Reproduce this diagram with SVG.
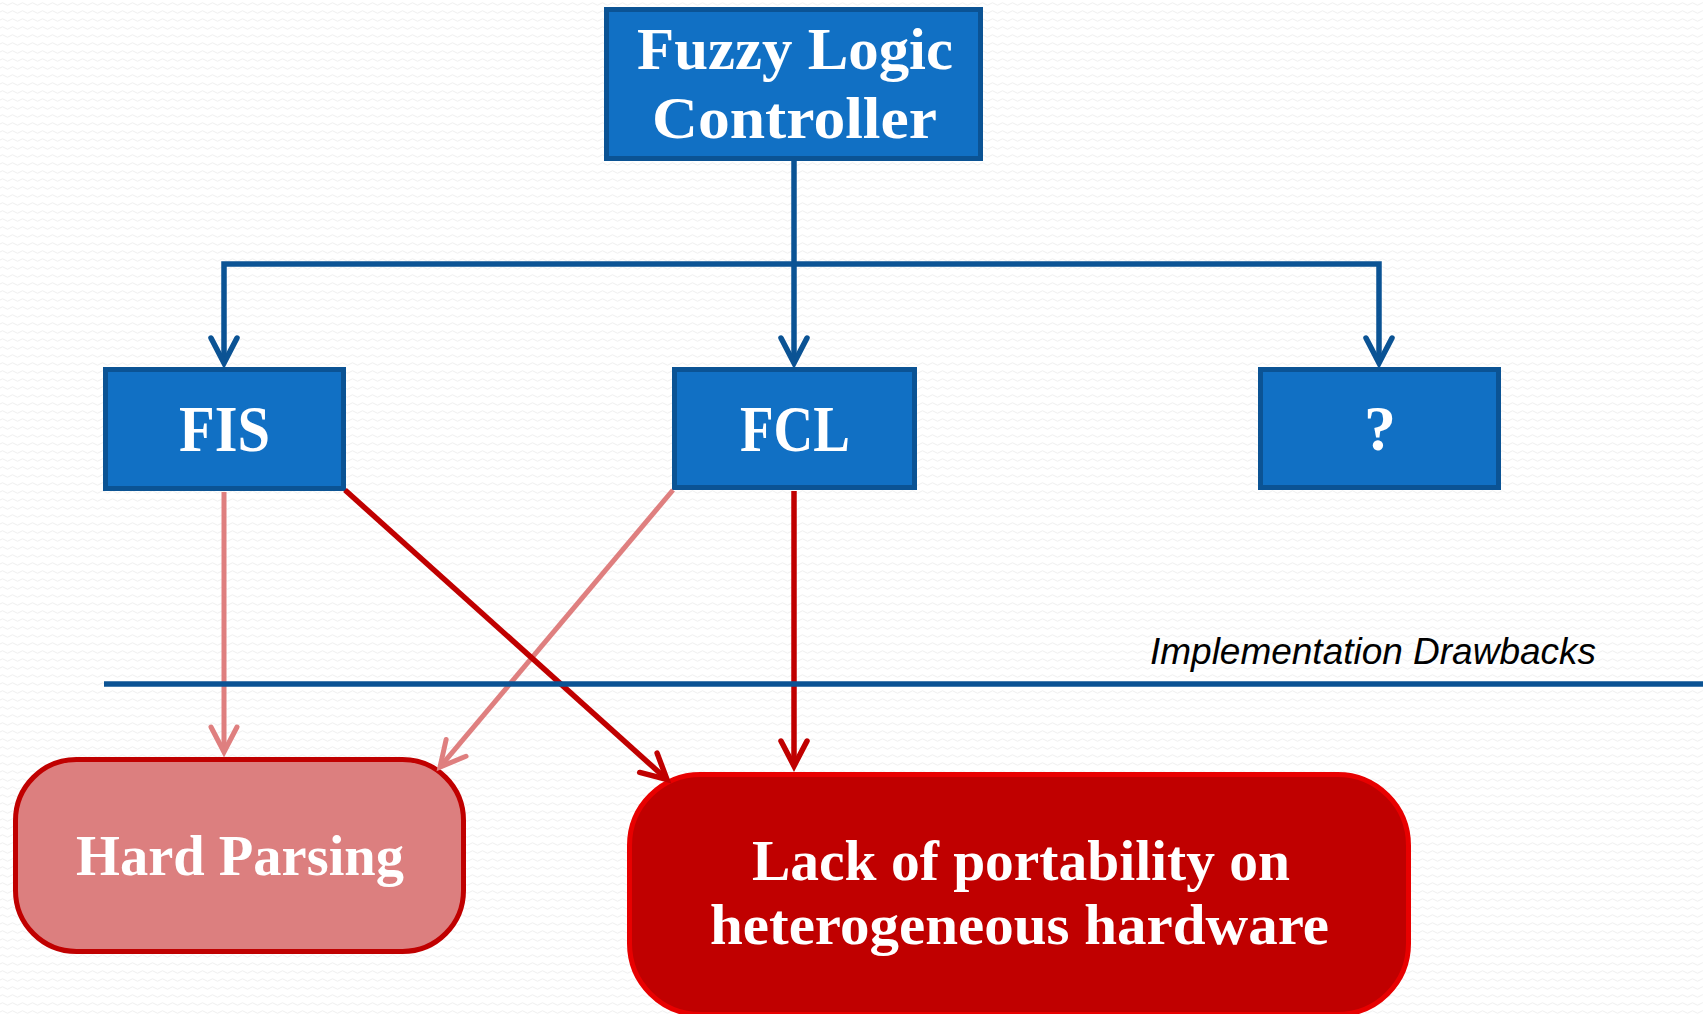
<svg xmlns="http://www.w3.org/2000/svg" width="1703" height="1014" viewBox="0 0 1703 1014">
<defs>
<pattern id="bgp" width="10" height="8" patternUnits="userSpaceOnUse">
<rect width="10" height="8" fill="#ffffff"/>
<path d="M0 4 Q2.5 1.5 5 4 T10 4" fill="none" stroke="#efefef" stroke-width="1"/>
</pattern>
<marker id="mb" markerUnits="userSpaceOnUse" viewBox="-30 -20 40 40" markerWidth="40" markerHeight="40" refX="0" refY="0" orient="auto" overflow="visible">
<path d="M-25,-13 L0,0 L-25,13" fill="none" stroke="#0b5394" stroke-width="5.5" stroke-linecap="round" stroke-linejoin="miter"/>
</marker>
<marker id="mr" markerUnits="userSpaceOnUse" viewBox="-30 -20 40 40" markerWidth="40" markerHeight="40" refX="0" refY="0" orient="auto" overflow="visible">
<path d="M-25,-13 L0,0 L-25,13" fill="none" stroke="#c00000" stroke-width="5.5" stroke-linecap="round" stroke-linejoin="miter"/>
</marker>
<marker id="ml" markerUnits="userSpaceOnUse" viewBox="-30 -20 40 40" markerWidth="40" markerHeight="40" refX="0" refY="0" orient="auto" overflow="visible">
<path d="M-25,-13 L0,0 L-25,13" fill="none" stroke="#df7f7f" stroke-width="5" stroke-linecap="round" stroke-linejoin="miter"/>
</marker>
</defs>
<style>
.bbox{fill:#1170c4;stroke:#0b5394;stroke-width:5}
.lbl{fill:#ffffff;font-family:"Liberation Serif","DejaVu Serif",serif;font-weight:bold;text-anchor:middle}
.blue{fill:none;stroke:#0b5394;stroke-width:5.5;stroke-linejoin:miter}
.dred{fill:none;stroke:#c00000;stroke-width:5.5}
.lred{fill:none;stroke:#df7f7f;stroke-width:5}
.note{fill:#000000;font-family:"Liberation Sans",Arial,sans-serif;font-style:italic;font-size:36px}
</style>
<rect width="1703" height="1014" fill="url(#bgp)"/>

<g id="flc">
<rect class="bbox" x="606.5" y="9.5" width="374" height="149"/>
<text class="lbl" x="795" y="69" font-size="59" textLength="316" lengthAdjust="spacingAndGlyphs">Fuzzy Logic</text>
<text class="lbl" x="794.5" y="138" font-size="59" textLength="285" lengthAdjust="spacingAndGlyphs">Controller</text>
</g>

<g id="fis">
<rect class="bbox" x="105.5" y="369.5" width="238" height="119"/>
<text class="lbl" x="224.5" y="451" font-size="66" textLength="91" lengthAdjust="spacingAndGlyphs">FIS</text>
</g>

<g id="fcl">
<rect class="bbox" x="674.5" y="369.5" width="240" height="118"/>
<text class="lbl" x="795" y="451" font-size="66" textLength="110" lengthAdjust="spacingAndGlyphs">FCL</text>
</g>

<g id="unknown">
<rect class="bbox" x="1260.5" y="369.5" width="238" height="118"/>
<text class="lbl" x="1380" y="450" font-size="64">?</text>
</g>

<g id="hard-parsing">
<rect x="15.5" y="759.5" width="448" height="192" rx="61" ry="61" fill="#dc7f7f" stroke="#c00000" stroke-width="5"/>
<text class="lbl" x="240" y="875" font-size="56" textLength="328" lengthAdjust="spacingAndGlyphs">Hard Parsing</text>
</g>

<g id="lack-portability">
<rect x="629.5" y="774.5" width="779" height="240" rx="71" ry="71" fill="#c00000" stroke="#e80000" stroke-width="5"/>
<text class="lbl" x="1021" y="880" font-size="56" textLength="538" lengthAdjust="spacingAndGlyphs">Lack of portability on</text>
<text class="lbl" x="1019.5" y="944" font-size="56" textLength="619" lengthAdjust="spacingAndGlyphs">heterogeneous hardware</text>
</g>

<g id="connectors">
<path class="blue" d="M794 161 V363" marker-end="url(#mb)"/>
<path class="blue" d="M794 264 H224 V363" marker-end="url(#mb)"/>
<path class="blue" d="M794 264 H1379 V363" marker-end="url(#mb)"/>
<path class="lred" d="M224 492 V752" marker-end="url(#ml)"/>
<path class="lred" d="M673 490 L440 767" marker-end="url(#ml)"/>
<path class="dred" d="M345 490 L667 779.5" marker-end="url(#mr)"/>
<path class="dred" d="M794 491 V766" marker-end="url(#mr)"/>
</g>

<g id="drawbacks-separator">
<line x1="104" y1="684" x2="1703" y2="684" stroke="#0b5394" stroke-width="5.5"/>
<text class="note" x="1150" y="664" textLength="446" lengthAdjust="spacingAndGlyphs">Implementation Drawbacks</text>
</g>
</svg>
